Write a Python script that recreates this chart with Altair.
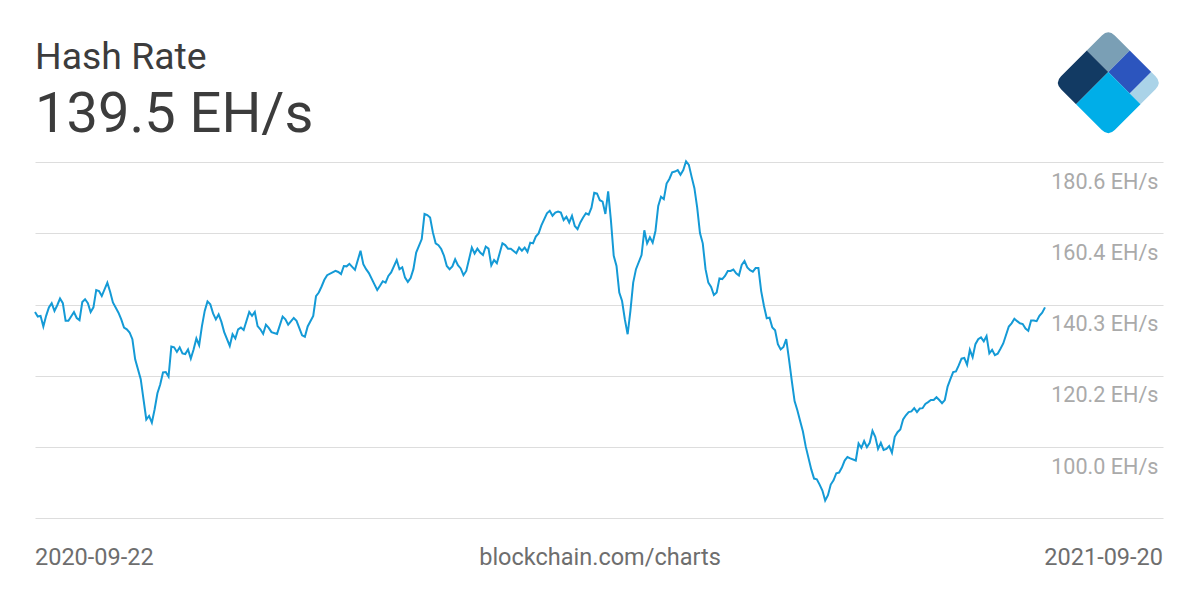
import altair as alt
import pandas as pd

# ---- data ----
start_date = "2020-09-22"
end_date = "2021-09-20"
title_text = "Hash Rate"
current_value = "139.5 EH/s"
source_text = "blockchain.com/charts"
tick_values = [79.95, 100.0, 120.2, 140.3, 160.4, 180.6]

days = [
    0, 1, 2, 3, 4, 5, 6, 7, 8, 9, 10, 11, 12, 14, 15, 16, 17, 18, 19, 20,
    21, 22, 23, 24, 26, 27, 28, 30, 31, 32, 33, 34, 35, 36, 38, 39, 40, 41, 42, 43,
    44, 45, 46, 47, 48, 49, 50, 51, 52, 53, 54, 55, 56, 57, 58, 59, 60, 61, 62, 63,
    64, 65, 66, 67, 68, 70, 71, 72, 73, 74, 75, 77, 78, 79, 80, 81, 82, 83, 84, 85,
    87, 89, 90, 91, 93, 94, 96, 97, 98, 100, 101, 102, 103, 104, 105, 108, 109, 110, 111, 112,
    113, 115, 117, 118, 119, 120, 122, 123, 124, 125, 126, 127, 128, 130, 131, 132, 133, 134, 135, 136,
    137, 139, 140, 141, 142, 143, 144, 145, 146, 147, 148, 149, 150, 151, 152, 153, 154, 155, 157, 158,
    159, 160, 161, 162, 163, 164, 165, 166, 167, 168, 169, 170, 171, 173, 174, 175, 176, 177, 178, 179,
    180, 181, 182, 184, 185, 186, 187, 188, 189, 190, 191, 192, 193, 194, 195, 196, 197, 198, 199, 200,
    201, 202, 203, 204, 205, 206, 207, 208, 209, 210, 211, 212, 213, 214, 215, 216, 218, 219, 220, 221,
    222, 223, 224, 225, 226, 227, 228, 229, 230, 231, 232, 233, 234, 235, 236, 237, 238, 239, 240, 241,
    242, 243, 244, 245, 246, 247, 248, 249, 250, 251, 252, 253, 254, 255, 256, 257, 258, 259, 260, 261,
    262, 263, 264, 265, 266, 267, 268, 269, 270, 271, 272, 273, 274, 275, 276, 277, 279, 280, 281, 282,
    283, 284, 285, 286, 287, 288, 289, 290, 291, 292, 293, 295, 296, 297, 298, 299, 300, 301, 302, 303,
    304, 305, 306, 307, 308, 309, 310, 311, 312, 313, 314, 315, 316, 317, 318, 319, 320, 321, 322, 323,
    324, 325, 326, 327, 328, 329, 330, 331, 332, 333, 334, 335, 336, 337, 338, 339, 340, 341, 342, 343,
    344, 345, 346, 347, 348, 350, 351, 352, 353, 354, 355, 356, 357, 358, 359, 360, 361, 362, 363,
]

hash_rate = [
    138.2, 136.9, 137.1, 134.1, 137.1, 139.5, 140.7, 138.5, 140.1, 142.0, 140.7, 135.7, 135.7, 138.2, 136.5, 135.9, 141.0, 141.8, 140.7, 138.2,
    139.5, 144.4, 144.1, 142.7, 146.5, 143.9, 140.9, 138.0, 136.1, 133.8, 133.3, 132.4, 130.5, 124.8, 119.2, 113.5, 107.8, 108.8, 106.9, 110.7,
    115.2, 117.7, 121.1, 121.2, 119.9, 128.4, 128.2, 126.9, 128.2, 126.5, 126.3, 127.6, 125.0, 127.6, 130.7, 128.8, 134.2, 138.5, 141.2, 140.4,
    137.8, 136.1, 137.5, 135.4, 132.5, 128.6, 131.9, 130.7, 133.3, 133.8, 133.1, 138.2, 137.1, 138.2, 134.2, 133.3, 132.0, 134.6, 133.7, 132.5,
    132.0, 136.9, 136.1, 134.6, 136.5, 135.7, 131.6, 131.2, 134.1, 137.1, 142.7, 143.7, 145.4, 147.3, 148.6, 149.8, 149.5, 148.9, 151.2, 151.1,
    151.8, 150.1, 155.5, 151.7, 150.3, 149.2, 146.0, 144.4, 145.6, 146.9, 146.5, 148.4, 149.4, 152.9, 150.3, 150.8, 147.9, 146.7, 147.8, 150.3,
    155.0, 158.8, 165.9, 165.6, 164.9, 160.7, 157.6, 157.1, 156.0, 154.1, 151.2, 150.3, 151.1, 153.1, 151.4, 150.5, 148.6, 149.8, 156.4, 154.7,
    156.1, 155.0, 154.3, 156.7, 156.1, 151.4, 152.9, 152.0, 154.8, 157.6, 157.1, 156.1, 156.1, 154.8, 156.4, 155.5, 156.4, 155.2, 157.8, 157.6,
    159.5, 160.4, 162.7, 166.1, 166.8, 165.4, 166.3, 166.6, 166.3, 164.2, 165.1, 163.5, 165.4, 162.5, 161.6, 163.5, 164.9, 166.1, 165.7, 167.7,
    171.9, 171.7, 169.8, 169.4, 165.9, 172.3, 164.0, 154.1, 151.2, 143.7, 141.3, 136.1, 131.9, 138.5, 146.5, 150.3, 154.3, 161.3, 157.6, 159.3,
    157.8, 161.1, 168.2, 170.8, 170.1, 174.5, 175.8, 177.7, 177.9, 178.3, 177.0, 178.3, 180.8, 179.8, 176.4, 173.2, 167.7, 160.5, 157.6, 150.3,
    146.5, 145.3, 143.0, 143.7, 147.7, 147.5, 148.4, 149.8, 149.8, 150.2, 149.1, 148.5, 151.5, 152.6, 150.8, 150.0, 149.6, 150.6, 150.6, 144.1,
    139.9, 136.4, 136.6, 133.8, 133.0, 129.1, 127.6, 128.3, 130.5, 124.8, 118.7, 113.0, 110.4, 107.4, 104.4, 100.2, 93.7, 91.1, 90.9, 89.4,
    87.7, 84.9, 86.4, 89.4, 90.6, 92.6, 92.8, 94.2, 96.2, 97.2, 96.8, 96.2, 101.0, 99.8, 101.7, 100.0, 101.2, 104.6, 102.9, 99.5,
    101.2, 99.2, 99.5, 100.3, 98.4, 102.9, 104.2, 105.0, 107.8, 109.0, 109.9, 110.1, 111.0, 109.9, 110.9, 111.0, 112.2, 112.7, 113.3, 113.3,
    114.1, 113.3, 112.4, 113.3, 117.1, 119.2, 121.2, 121.4, 123.1, 125.0, 125.2, 123.3, 127.5, 125.4, 129.1, 130.5, 131.0, 129.9, 131.4, 126.5,
    127.5, 126.0, 126.4, 127.8, 129.3, 134.1, 135.0, 136.3, 135.6, 135.0, 134.8, 133.5, 132.9, 135.8, 135.8, 135.6, 137.1, 138.0, 139.5,
]

# logo pieces (custom symbol paths in a -1..1 box)
logo_pieces = ["top", "left", "right", "edge", "bottom"]
logo_colors = ["#7a9fb5", "#123a63", "#2c55be", "#aad3e8", "#00aee8"]
logo_paths = [
    "M-0.4,-0.6 L-0.12,-0.88 Q0,-1 0.12,-0.88 L0.4,-0.6 L0,-0.2 Z",
    "M-0.4,-0.6 L0,-0.2 L-0.6,0.4 L-0.88,0.12 Q-1,0 -0.88,-0.12 Z",
    "M0.4,-0.6 L0.8,-0.2 L0.4,0.2 L0,-0.2 Z",
    "M0.8,-0.2 L0.88,-0.12 Q1,0 0.88,0.12 L0.6,0.4 L0.4,0.2 Z",
    "M0,-0.2 L0.6,0.4 L0.12,0.88 Q0,1 -0.12,0.88 L-0.6,0.4 Z",
]

FONT = "Roboto"

dates = pd.Timestamp(start_date) + pd.to_timedelta(days, unit="D")
df = pd.DataFrame({"date": dates, "value": hash_rate})

x_enc = alt.X(
    "date:T",
    axis=None,
    scale=alt.Scale(domain=[
        alt.DateTime(year=2020, month=9, date=22),
        alt.DateTime(year=2021, month=11, date=1, hours=10),
    ]),
)
y_enc = alt.Y(
    "value:Q",
    scale=alt.Scale(domain=[tick_values[0], tick_values[-1]], nice=False, zero=False),
    axis=alt.Axis(
        orient="right",
        values=tick_values,
        grid=True,
        gridColor="#dddddd",
        gridWidth=1,
        domain=False,
        ticks=False,
        tickSize=0,
        labelAlign="right",
        labelPadding=-5,
        labelBaseline="alphabetic",
        labelOffset=26,
        labelFont=FONT,
        labelFontSize=21.6,
        labelColor="#aaaaaa",
        labelOverlap=False,
        labelFlush=False,
        labelExpr="datum.value < 90 ? '' : format(datum.value, '.1f') + ' EH/s'",
        title=None,
    ),
)

line = alt.Chart(df).mark_line(color="#149ad6", strokeWidth=2).encode(x=x_enc, y=y_enc)


def label(text, x, y, size, color, align="left"):
    return alt.Chart(pd.DataFrame({"t": [text]})).mark_text(
        font=FONT, fontSize=size, color=color, align=align, baseline="alphabetic"
    ).encode(text="t:N", x=alt.value(x), y=alt.value(y))


title1 = label(title_text, 0, -93, 37.4, "#3c3c3c")
title2 = label(current_value, 0, -29.6, 56, "#3c3c3c")
foot_left = label(start_date, 0, 402.5, 23.5, "#6e6e6e")
foot_mid = label(source_text, 565, 402.5, 23.5, "#6e6e6e", align="center")
foot_right = label(end_date, 1128, 402.5, 23.5, "#6e6e6e", align="right")

logo_df = pd.DataFrame({"piece": logo_pieces})
logo = alt.Chart(logo_df).mark_point(filled=True, opacity=1, strokeWidth=0).encode(
    x=alt.value(1073.3),
    y=alt.value(-79.3),
    size=alt.value(11534),
    shape=alt.Shape("piece:N", scale=alt.Scale(domain=logo_pieces, range=logo_paths), legend=None),
    color=alt.Color("piece:N", scale=alt.Scale(domain=logo_pieces, range=logo_colors), legend=None),
)

chart = alt.layer(line, title1, title2, foot_left, foot_mid, foot_right, logo).properties(
    width=1128,
    height=356,
    padding={"left": 27, "top": 154, "right": 29, "bottom": 74},
    autosize=alt.AutoSizeParams(type="none"),
    background="white",
).configure_view(strokeWidth=0)

chart.save("out.html", embed_options={"renderer": "svg", "actions": False})
